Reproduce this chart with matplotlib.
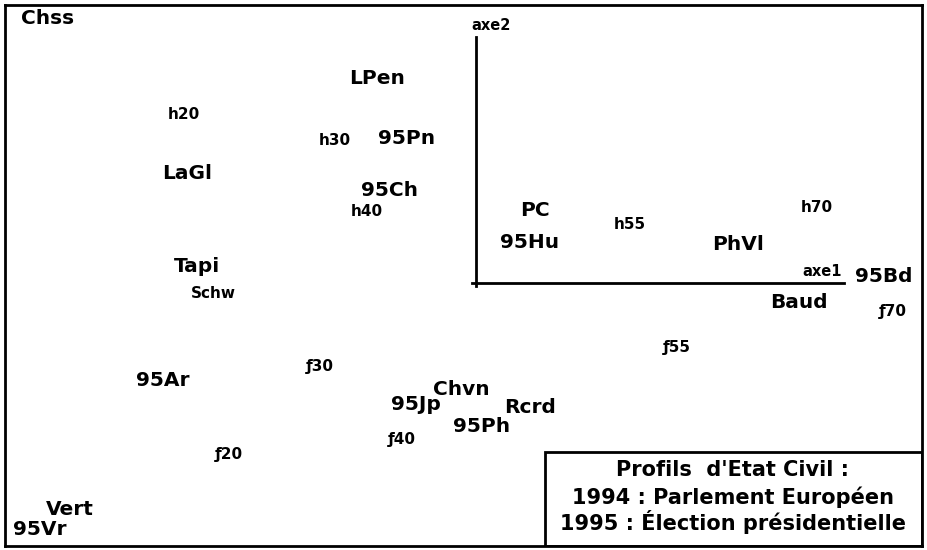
"""
Plan factoriel (axe1 x axe2) : profils d'etat civil et votes 1994 / 1995.
"""
import matplotlib
matplotlib.use("Agg")
import matplotlib.pyplot as plt
from matplotlib.patches import Rectangle

# coordonnees sur les axes factoriels
labels_big = ["Chss", "LPen", "95Pn", "LaGl", "95Ch", "Tapi", "PC", "95Hu",
              "PhVl", "95Bd", "Baud", "95Ar", "Chvn", "95Jp", "Rcrd", "95Ph",
              "Vert", "95Vr"]
x_big = [-4.28, -0.99, -0.69, -2.89, -0.86, -2.79, 0.59, 0.54,
         2.62, 4.08, 3.23, -3.13, -0.15, -0.60, 0.54, 0.06,
         -4.06, -4.36]
y_big = [2.65, 2.05, 1.45, 1.09, 0.92, 0.16, 0.72, 0.40,
         0.38, 0.06, -0.20, -0.98, -1.07, -1.22, -1.25, -1.44,
         -2.27, -2.47]

# classes d'age hommes (h) / femmes (f) et Schw
labels_small = ["h20", "h30", "h40", "h55", "h70", "Schw",
                "\u019270", "\u019255", "\u019230", "\u019240", "\u019220"]
x_small = [-2.92, -1.41, -1.09, 1.54, 3.41, -2.63,
           4.17, 2.01, -1.56, -0.74, -2.47]
y_small = [1.69, 1.42, 0.71, 0.58, 0.75, -0.11,
           -0.29, -0.65, -0.84, -1.57, -1.72]

title_lines = ["Profils  d'Etat Civil :",
               "1994 : Parlement Européen",
               "1995 : Élection présidentielle"]

AXE1_END = 3.68
AXE2_END = 2.46

fig = plt.figure(figsize=(9.27, 5.5), dpi=100)
ax = fig.add_axes([0.0054, 0.0073, 0.989, 0.9836])
ax.set_xlim(-4.71, 4.46)
ax.set_ylim(-2.63, 2.78)
ax.set_xticks([])
ax.set_yticks([])
for sp in ax.spines.values():
    sp.set_linewidth(2)

# axes factoriels
ax.plot([-0.04, AXE1_END], [0, 0], color="black", lw=2)
ax.plot([0, 0], [-0.03, AXE2_END], color="black", lw=2)
ax.text(0.15, 2.58, "axe2", ha="center", va="center", fontsize=10.5, fontweight="bold")
ax.text(3.46, 0.11, "axe1", ha="center", va="center", fontsize=10.5, fontweight="bold")

for lab, x, y in zip(labels_big, x_big, y_big):
    ax.text(x, y, lab, ha="center", va="center", fontsize=14.5, fontweight="bold")
for lab, x, y in zip(labels_small, x_small, y_small):
    ax.text(x, y, lab, ha="center", va="center", fontsize=11, fontweight="bold")

# cartouche du titre
ax.add_patch(Rectangle((0.589, 0), 0.411, 0.174, transform=ax.transAxes,
                       facecolor="white", edgecolor="black", lw=2))
for yy, line in zip([0.140, 0.0906, 0.0444], title_lines):
    ax.text(0.794, yy, line, transform=ax.transAxes, ha="center", va="center",
            fontsize=15, fontweight="bold")

fig.savefig("out.png", dpi=100)
